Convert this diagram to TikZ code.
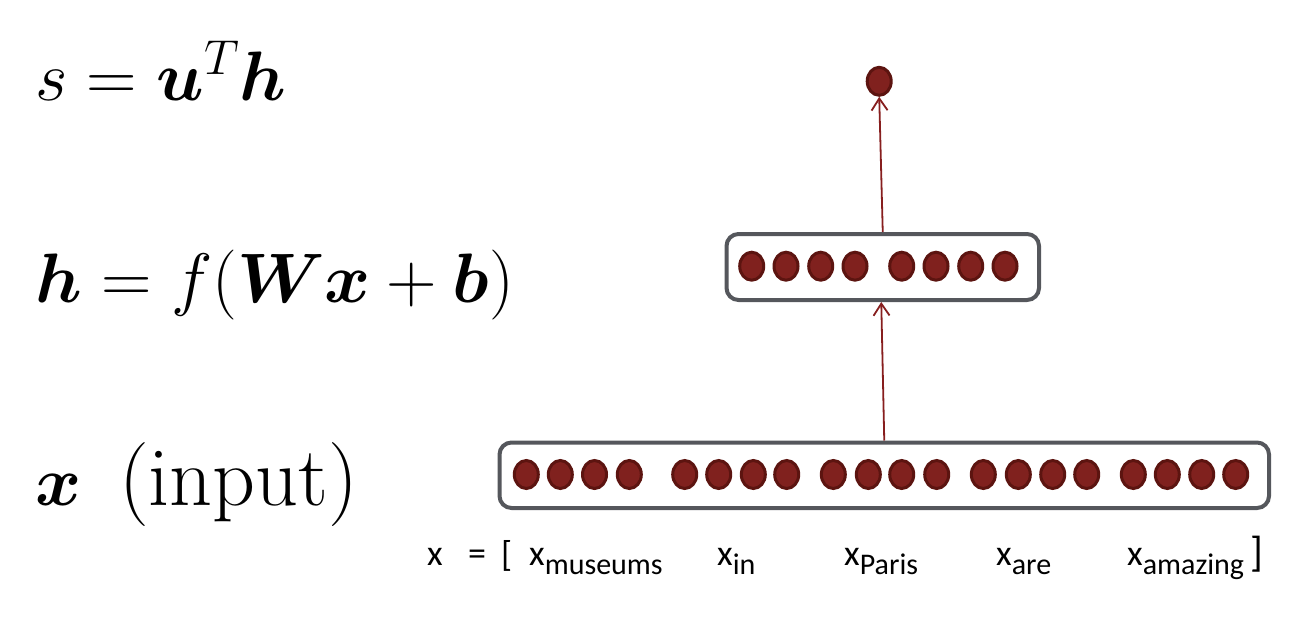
\RequirePackage{fix-cm}
\documentclass[tikz,border=0pt]{standalone}
\usepackage{amsmath}
\usepackage{fontspec}
\newfontfamily\carlito{Carlito}
\usetikzlibrary{shapes.geometric,arrows.meta}
\definecolor{neurfill}{RGB}{128,33,30}
\definecolor{neurdraw}{RGB}{92,20,16}
\definecolor{boxgray}{RGB}{85,87,92}
\definecolor{arrred}{RGB}{135,30,30}
\tikzset{
  neuron/.style={ellipse, draw=neurdraw, fill=neurfill, line width=3pt,
    minimum width=24pt, minimum height=28pt, inner sep=0pt},
  layerbox/.style={draw=boxgray, line width=4pt, rounded corners=12pt,
    fill=white, inner sep=0pt},
  conn/.style={draw=arrred, line width=1.8pt, -{Straight Barb[length=12pt,width=16pt,line width=1.8pt]}},
  eqn/.style={anchor=base west, inner sep=0pt, font=\fontsize{70}{84}\selectfont},
  lbl/.style={anchor=base west, inner sep=0pt, font=\carlito\fontsize{36}{42}\selectfont},
}
\newcommand{\subw}[1]{\raisebox{-9pt}{\fontsize{30}{36}\selectfont #1}}
\begin{document}
\begin{tikzpicture}[x=1pt,y=-1pt]
\useasboundingbox (0,0) rectangle (1308,618);
% equations
\node[eqn] (eqs) at (35,100) {$s=\boldsymbol{u}^{T}\boldsymbol{h}$};
\node[eqn] (eqh) at (35,302) {$\boldsymbol{h}=f(\boldsymbol{W}\boldsymbol{x}+\boldsymbol{b})$};
\node[eqn] (eqx) at (35,505) {$\boldsymbol{x}$};
\node[eqn, font=\fontsize{84}{100}\selectfont] (inp) at (119,505) {(input)};
% boxes
\node[layerbox, minimum width=769.5pt, minimum height=65.5pt] (inbox) at (884.25,475.25) {};
\node[layerbox, minimum width=312.5pt, minimum height=66pt] (hid) at (882.75,267) {};
% input neurons
\foreach \xx [count=\i] in {526.3,560.3,594.5,629.3, 684.7,718.7,753.3,786.7, 833.3,868.3,901.7,936.7, 983.3,1018.3,1052.7,1086.7, 1133.3,1167.3,1201.7,1235.7}
  \node[neuron] (in\i) at (\xx,474.5) {};
% hidden neurons
\foreach \xx [count=\i] in {751.7,786,820.7,855, 901.7,936,970.7,1005}
  \node[neuron] (h\i) at (\xx,266.2) {};
% output
\node[neuron] (out) at (879.2,81.3) {};
% connectors
\draw[conn] (inbox.north) -- ([xshift=-1.5pt]hid.south);
\draw[conn] (hid.north) -- (out.south);
% labels
\node[lbl] (lx) at (427,565) {x};
\node[lbl] (leq) at (468,565) {=};
\node[lbl] (lob) at (501,566) {[};
\node[lbl] (l1) at (529,565) {x\subw{museums}};
\node[lbl] (l2) at (717,565) {x\subw{in}};
\node[lbl] (l3) at (844,565) {x\subw{Paris}};
\node[lbl] (l4) at (996,565) {x\subw{are}};
\node[lbl] (l5) at (1127,565) {x\subw{amazing}};
\node[lbl, font=\carlito\fontsize{42}{48}\selectfont] (lcb) at (1250,566) {]};
\end{tikzpicture}
\end{document}
